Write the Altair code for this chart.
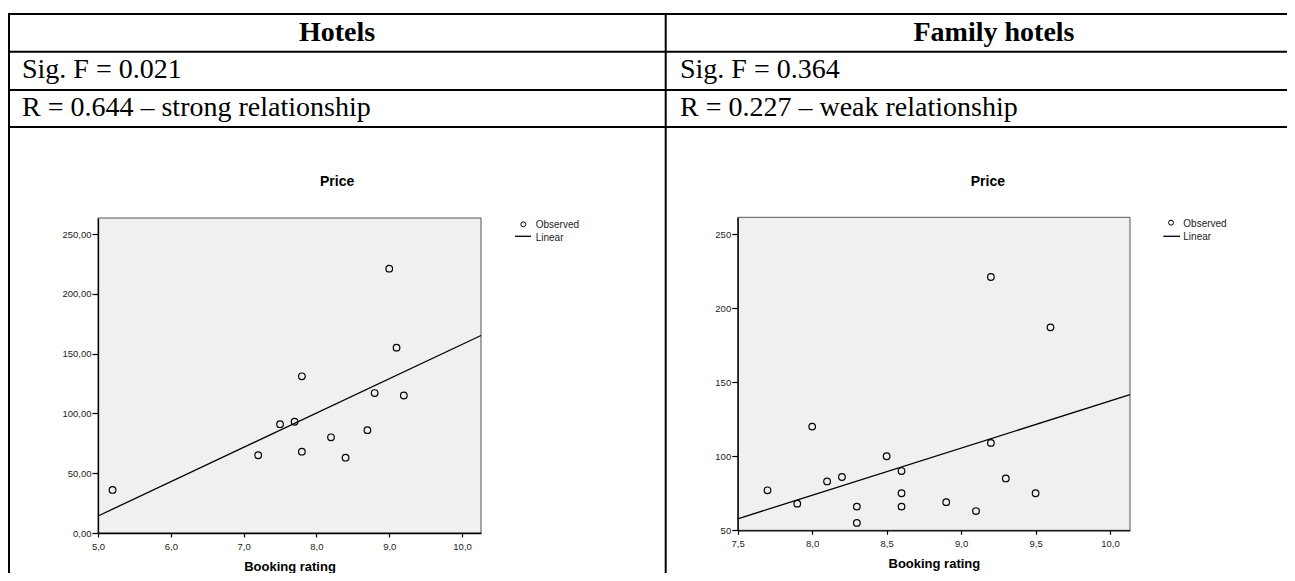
import altair as alt
import pandas as pd

# ---- data ----
hotel_rating = [5.2, 7.2, 7.5, 7.7, 7.8, 7.8, 8.2, 8.4, 8.7, 8.8, 9.0, 9.1, 9.2]
hotel_price = [36, 65, 91, 93, 131, 68, 80, 63, 86, 117, 221, 155, 115]

family_rating = [7.7, 7.9, 8.0, 8.1, 8.2, 8.3, 8.3, 8.5, 8.6, 8.6, 8.6, 8.9, 9.1, 9.2, 9.2, 9.3, 9.5, 9.6]
family_price = [77, 68, 120, 83, 86, 66, 55, 100, 90, 75, 66, 69, 63, 109, 221, 85, 75, 187]

headers = ["Hotels", "Family hotels"]
sig_texts = ["Sig. F = 0.021", "Sig. F = 0.364"]
r_texts = ["R = 0.644 \u2013 strong relationship", "R = 0.227 \u2013 weak relationship"]

hotel_x_domain = [5.0, 10.26]
hotel_y_domain = [0.0, 263.4]
hotel_x_ticks = [5, 6, 7, 8, 9, 10]
hotel_y_ticks = [0, 50, 100, 150, 200, 250]

family_x_domain = [7.5, 10.134]
family_y_domain = [50.0, 261.3]
family_x_ticks = [7.5, 8.0, 8.5, 9.0, 9.5, 10.0]
family_y_ticks = [50, 100, 150, 200, 250]

W, H = 1279, 565
SANS = "Liberation Sans"
SERIF = "Liberation Serif"
one = pd.DataFrame({"k": [0]})


def panel(rating, price, xdom, ydom, xticks, yticks, xrange, yrange,
          xfmt, yfmt, x_offset, y_offset, title_y):
    df = pd.DataFrame({"rating": rating, "price": price})
    frame = pd.DataFrame({"x0": [xdom[0]], "x1": [xdom[1]], "y0": [ydom[0]], "y1": [ydom[1]]})
    xscale = alt.Scale(domain=xdom, range=xrange, nice=False, zero=False)
    yscale = alt.Scale(domain=ydom, range=yrange, nice=False, zero=False)
    xaxis = alt.Axis(orient="bottom", offset=x_offset, values=xticks, grid=False,
                     labelExpr=f"replace(format(datum.value, '{xfmt}'), '.', ',')",
                     labelFont=SANS, labelFontSize=9.5, labelColor="#222",
                     labelFlush=False, labelOverlap=False,
                     tickSize=4, tickColor="black", labelPadding=4,
                     domainColor="black", domainWidth=1.3, tickWidth=1.2,
                     title="Booking rating", titleFont=SANS, titleFontSize=13,
                     titleFontWeight="bold", titleColor="black",
                     titleBaseline="middle", titleY=title_y, zindex=1)
    yaxis = alt.Axis(orient="left", offset=y_offset, values=yticks, grid=False,
                     labelExpr=f"replace(format(datum.value, '{yfmt}'), '.', ',')",
                     labelFont=SANS, labelFontSize=9.5, labelColor="#222",
                     labelFlush=False, labelOverlap=False,
                     tickSize=6, tickColor="black", labelPadding=1,
                     domainColor="black", domainWidth=1.3, tickWidth=1.2,
                     title=None, zindex=1)
    bg = alt.Chart(frame).mark_rect(fill="#f0f0f0", stroke="#555", strokeWidth=1).encode(
        x=alt.X("x0:Q", scale=xscale, axis=xaxis),
        x2="x1:Q",
        y=alt.Y("y0:Q", scale=yscale, axis=yaxis),
        y2="y1:Q",
    )
    pts = alt.Chart(df).mark_point(shape="circle", filled=False, color="black",
                                   size=44, strokeWidth=1.2, opacity=1).encode(
        x=alt.X("rating:Q", scale=xscale, axis=xaxis),
        y=alt.Y("price:Q", scale=yscale, axis=yaxis),
    )
    fit = alt.Chart(df).transform_regression(
        "rating", "price", extent=xdom
    ).mark_line(color="black", strokeWidth=1.3).encode(
        x=alt.X("rating:Q", scale=xscale, axis=xaxis),
        y=alt.Y("price:Q", scale=yscale, axis=yaxis),
    )
    return alt.layer(bg, fit, pts)


left = panel(hotel_rating, hotel_price, hotel_x_domain, hotel_y_domain,
             hotel_x_ticks, hotel_y_ticks, [90, 473], [525, 210],
             ".1f", ".2f", -(H - 525), -90, 33.3)
right = panel(family_rating, family_price, family_x_domain, family_y_domain,
              family_x_ticks, family_y_ticks, [729.7, 1122], [522.3, 209.3],
              ".1f", "d", -(H - 522.3), -729.7, 33.4)


def rule(x1, x2, y1, y2, w=2):
    return alt.Chart(one).mark_rule(color="black", strokeWidth=w).encode(
        x=alt.value(x1), x2=alt.value(x2), y=alt.value(y1), y2=alt.value(y2))


def label(t, x, y, size, font=SANS, weight="normal", align="left", color="black"):
    return alt.Chart(pd.DataFrame({"t": [t]})).mark_text(
        font=font, fontSize=size, fontWeight=weight, align=align,
        baseline="middle", color=color).encode(
        x=alt.value(x), y=alt.value(y), text="t:N")


def legend_marks(cx, cy, tx, lx1, lx2, ly, ty2):
    dot = alt.Chart(one).mark_point(shape="circle", filled=False, color="black",
                                    size=24, strokeWidth=1, opacity=1).encode(
        x=alt.value(cx), y=alt.value(cy))
    line = rule(lx1, lx2, ly, ly, w=1.3)
    return [dot, line,
            label("Observed", tx, cy + 1, 10, color="#222"),
            label("Linear", tx, ty2, 10, color="#222")]


deco = []
# table grid
for yy in [6, 43.7, 82, 119]:
    deco.append(rule(0, W, yy, yy))
deco.append(rule(1, 1, 6, H))
deco.append(rule(657.7, 657.7, 6, H))
# table text
deco.append(label(headers[0], 329, 25, 28, font=SERIF, weight="bold", align="center"))
deco.append(label(headers[1], 986, 25, 28, font=SERIF, weight="bold", align="center"))
deco.append(label(sig_texts[0], 14, 62, 28, font=SERIF))
deco.append(label(sig_texts[1], 672, 62, 28, font=SERIF))
deco.append(label(r_texts[0], 14, 100, 28, font=SERIF))
deco.append(label(r_texts[1], 672, 100, 28, font=SERIF))
# chart titles
deco.append(label("Price", 312, 174, 14, weight="bold"))
deco.append(label("Price", 962.7, 173.7, 14, weight="bold"))
# legends
deco += legend_marks(515.3, 216.3, 527.7, 507, 523, 228.3, 230)
deco += legend_marks(1163, 214.7, 1175.3, 1155.3, 1172, 228.3, 229)

chart = alt.layer(left, right, *deco).resolve_scale(
    x="independent", y="independent"
).properties(
    width=W, height=H, autosize=alt.AutoSizeParams(type="none"), padding=0,
    background="white"
).configure_view(stroke=None)

chart.save("out.html", embed_options={"renderer": "svg", "actions": False})
